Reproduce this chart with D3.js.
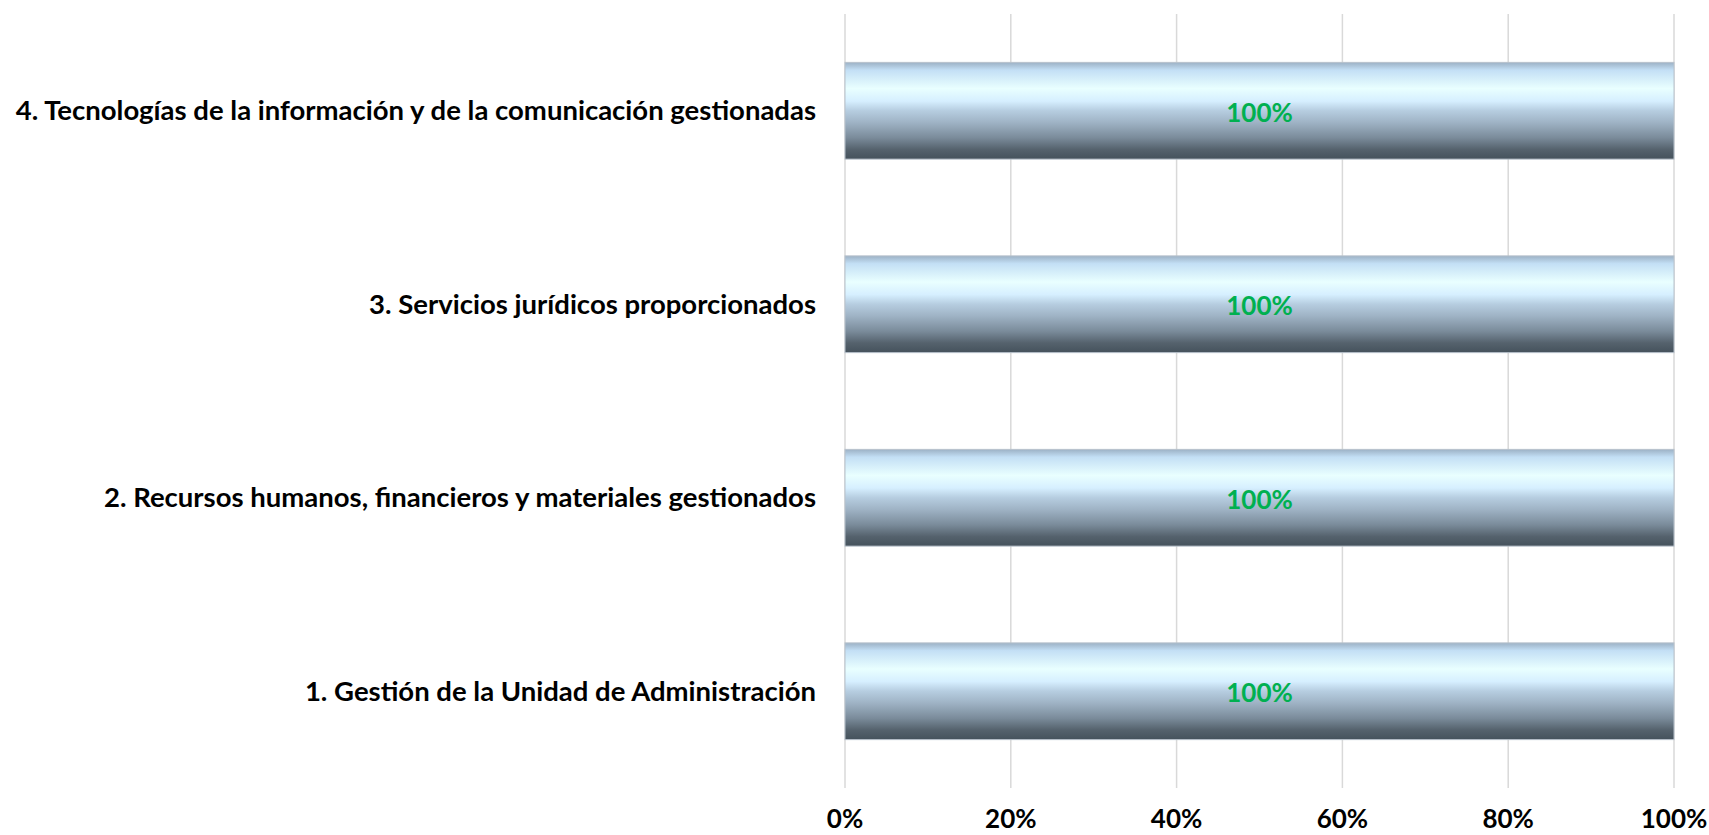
<!DOCTYPE html>
<html lang="es">
<head>
  <meta charset="UTF-8">
  <title>Avance de componentes</title>
  <script src="https://d3js.org/d3.v7.min.js"></script>
  <style>
    html, body { margin: 0; padding: 0; background: #fff; }
    svg { display: block; }
    text { font-family: Lato, "Open Sans", sans-serif; font-weight: bold; }
  </style>
</head>
<body>
  <svg id="chart" width="1709" height="835"></svg>
  <script>
    // Datos
    const categories = [
      '4. Tecnologías de la información y de la comunicación gestionadas',
      '3. Servicios jurídicos proporcionados',
      '2. Recursos humanos, financieros y materiales gestionados',
      '1. Gestión de la Unidad de Administración'
    ];
    const values = [1, 1, 1, 1];
    const tickValues = [0, 0.2, 0.4, 0.6, 0.8, 1];

    const svg = d3.select('#chart');
    const plot = { left: 845, right: 1674, top: 14, bottom: 788 };

    const x = d3.scaleLinear().domain([0, 1]).range([plot.left, plot.right]);
    const y = d3.scaleBand().domain(categories).range([plot.top, plot.bottom])
      .paddingInner(0.5).paddingOuter(0.25);
    const fmt = d3.format('.0%');

    // Degradado de las barras
    const grad = svg.append('defs').append('linearGradient')
      .attr('id', 'barGrad').attr('x1', 0).attr('y1', 0).attr('x2', 0).attr('y2', 1);
    [
      [0, '#9cb1c5'], [0.08, '#c3dff5'], [0.27, '#e9ffff'], [0.4, '#d6efff'],
      [0.5, '#b6cde0'], [0.62, '#9fb3c5'], [0.78, '#7a8b9a'], [0.9, '#55626d'], [1, '#45525c']
    ].forEach(([o, c]) => grad.append('stop').attr('offset', o).attr('stop-color', c));

    // Líneas de cuadrícula
    svg.append('g')
      .selectAll('line')
      .data(tickValues)
      .join('line')
      .attr('x1', d => x(d)).attr('x2', d => x(d))
      .attr('y1', plot.top).attr('y2', plot.bottom)
      .attr('stroke', '#d9d9d9')
      .attr('stroke-width', 1.5);

    // Barras
    svg.append('g')
      .selectAll('rect')
      .data(values)
      .join('rect')
      .attr('x', x(0))
      .attr('y', (d, i) => y(categories[i]))
      .attr('width', d => x(d) - x(0))
      .attr('height', y.bandwidth())
      .attr('fill', 'url(#barGrad)')
      .attr('stroke', '#b8c2cc')
      .attr('stroke-width', 1);

    // Etiquetas de valor
    svg.append('g')
      .selectAll('text')
      .data(values)
      .join('text')
      .attr('x', d => (x(0) + x(d)) / 2)
      .attr('y', (d, i) => y(categories[i]) + y.bandwidth() / 2 + 2)
      .attr('dy', '0.35em')
      .attr('text-anchor', 'middle')
      .attr('font-size', 26)
      .attr('fill', '#00b050')
      .text(d => fmt(d));

    // Etiquetas de categoría
    svg.append('g')
      .selectAll('text')
      .data(categories)
      .join('text')
      .attr('x', plot.left - 29)
      .attr('y', d => y(d) + y.bandwidth() / 2)
      .attr('dy', '0.35em')
      .attr('text-anchor', 'end')
      .attr('font-size', 27.5)
      .attr('fill', '#000')
      .text(d => d);

    // Etiquetas del eje X
    svg.append('g')
      .selectAll('text')
      .data(tickValues)
      .join('text')
      .attr('x', d => x(d))
      .attr('y', 828)
      .attr('text-anchor', 'middle')
      .attr('font-size', 26)
      .attr('fill', '#000')
      .text(d => fmt(d));
  </script>
</body>
</html>
